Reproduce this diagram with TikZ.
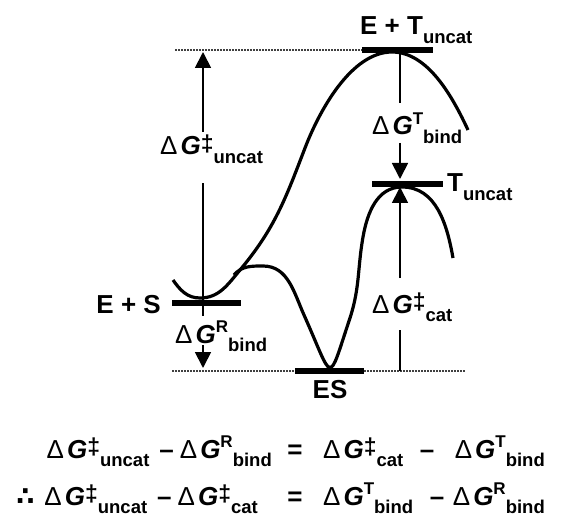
\documentclass[tikz,border=0pt]{standalone}
\usepackage{fontspec}
\setmainfont{Liberation Sans}
\newfontfamily\symfnt{DejaVu Sans}
\usetikzlibrary{arrows.meta}
\newcommand{\suptxt}[1]{\raisebox{0.4em}{\fontsize{17}{17}\selectfont #1}}
\newcommand{\subtxt}[1]{\raisebox{-0.32em}{\fontsize{18.5}{18}\selectfont #1}}
\newcommand{\dG}[2]{{\mdseries Δ}\kern3pt\textit{G}\suptxt{#1}\subtxt{#2}}
\newcommand{\dGd}[1]{{\mdseries Δ}\kern3pt\textit{G}\raisebox{0.12em}{\fontsize{23}{23}\selectfont ‡}\subtxt{#1}}
\begin{document}
\begin{tikzpicture}[x=1pt,y=1pt,
    lbl/.style={font=\fontsize{26}{28}\selectfont\bfseries,inner sep=0pt},
    curve/.style={line width=3.2pt},
    bar/.style={line width=6pt},
    guide/.style={line width=1.5pt,dash pattern=on 1.5pt off 1.5pt,black!75},
    conn/.style={line width=1.8pt},
    arr/.style={conn,-{Triangle[width=16pt,length=16pt]}}]
    \useasboundingbox (0,0) rectangle (565,523);
    % energy levels
    \draw[guide] (175,473) -- (362,473);
    \draw[guide] (172,152) -- (465,152);
    \draw[curve] (173,243) to [out=-55,in=180] (200,225) to [out=0,in=230] (240,253)
    to [out=50,in=249] (305,375) to [out=69,in=180,looseness=0.8] (392,471)
    to [out=0,in=115,looseness=0.85] (468,393);
    \draw[curve] (234,248) to [out=50,in=180] (263,257) to [out=0,in=114] (304,208)
    .. controls (334,141) and (327,136) .. (350,205) to [out=72,in=-100] (363,286)
    to [out=80,in=180] (402,336) to [out=0,in=100] (453,265);
    \draw[bar] (362,473) -- (433,473);
    \draw[bar] (172,220) -- (241,220);
    \draw[bar] (295,152) -- (364,152);
    \draw[bar] (372,339) -- (443,339);
    % state labels
    \node[lbl,anchor=base west] (etu) at (360,488) {E + T\subtxt{uncat}};
    \node[lbl,anchor=base east] (es0) at (161,210) {E + S};
    \node[lbl,anchor=base] (es1) at (330,125) {ES};
    \node[lbl,anchor=base west] (tu) at (447,331) {T\subtxt{uncat}};
    % energy differences
    \node[lbl,anchor=base west] (dgu) at (160,368) {\dGd{uncat}};
    \node[lbl,anchor=base west] (dgr) at (175,180) {\dG{R}{bind}};
    \node[lbl,anchor=base west] (dgt) at (372,388) {\dG{T}{bind}};
    \node[lbl,anchor=base west] (dgc) at (372,210) {\dGd{cat}};
    \coordinate (u0) at (203,220); \coordinate (u1) at (203,340);
    \coordinate (u2) at (203,391); \coordinate (u3) at (203,471);
    \coordinate (r1) at (203,207); \coordinate (r2) at (203,178);
    \coordinate (r3) at (203,155);
    \coordinate (t0) at (400,471); \coordinate (t1) at (400,420);
    \coordinate (t2) at (400,380); \coordinate (t3) at (400,344);
    \coordinate (c0) at (400,152); \coordinate (c1) at (400,193);
    \coordinate (c2) at (400,245); \coordinate (c3) at (400,336);
    \draw[conn] (u0) -- (u1);
    \draw[arr] (u2) -- (u3);
    \draw[conn] (u0) -- (r1);
    \draw[arr] (r2) -- (r3);
    \draw[conn] (t0) -- (t1);
    \draw[arr] (t2) -- (t3);
    \draw[conn] (c0) -- (c1);
    \draw[arr] (c2) -- (c3);
    % equations
    \node[lbl,anchor=base east] (eqa) at (272,65) {\dGd{uncat}\kern10pt–\kern6pt\dG{R}{bind}};
    \node[lbl,anchor=base] (eqs) at (295,65) {=};
    \node[lbl,anchor=base west] (eqb) at (323,65) {\dGd{cat}};
    \node[lbl,anchor=base] (eqm) at (427,65) {–};
    \node[lbl,anchor=base east] (eqc) at (545,65) {\dG{T}{bind}};
    \node[lbl,anchor=base east] (fna) at (258,18) {{\symfnt ∴}\kern10pt\dGd{uncat}\kern10pt–\kern6pt\dGd{cat}};
    \node[lbl,anchor=base] (fns) at (295,18) {=};
    \node[lbl,anchor=base west] (fnb) at (323,18) {\dG{T}{bind}};
    \node[lbl,anchor=base] (fnm) at (437,18) {–};
    \node[lbl,anchor=base east] (fnc) at (545,18) {\dG{R}{bind}};
  \end{tikzpicture}
\end{document}
